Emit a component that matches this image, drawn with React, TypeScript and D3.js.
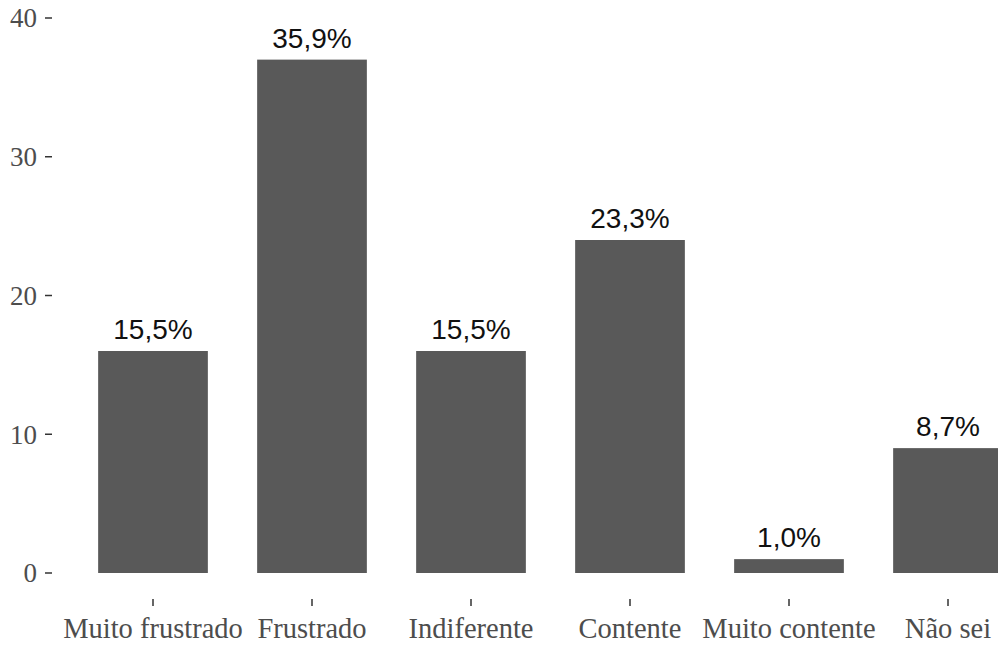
import React from "react";
import * as d3 from "d3";

const categories = ["Muito frustrado", "Frustrado", "Indiferente", "Contente", "Muito contente", "Não sei"];
const counts = [16, 37, 16, 24, 1, 9];
const percentLabels = ["15,5%", "35,9%", "15,5%", "23,3%", "1,0%", "8,7%"];
const yTicks = [0, 10, 20, 30, 40];

const W = 998;
const H = 645;

export default function App() {
  const x = d3.scalePoint<string>().domain(categories).range([153, 948]);
  const step = x.step();
  const barW = step * 0.69;
  const y = d3.scaleLinear().domain([0, 40]).range([573, 18]);
  const plotLeft = 52;
  const plotBottom = 599;

  return (
    <svg
      width={W}
      height={H}
      style={{ position: "absolute", left: 0, top: 0, background: "#fff" }}
    >
      <rect x={0} y={0} width={W} height={H} fill="#fff" />
      {categories.map((c, i) => (
        <rect
          key={c}
          x={(x(c) as number) - barW / 2}
          y={y(counts[i])}
          width={barW}
          height={y(0) - y(counts[i])}
          fill="#595959"
        />
      ))}
      {categories.map((c, i) => (
        <text
          key={"l" + c}
          x={x(c) as number}
          y={y(counts[i]) - 12}
          textAnchor="middle"
          fontFamily="'Liberation Sans', Arial, sans-serif"
          fontSize={28}
          fill="#111"
        >
          {percentLabels[i]}
        </text>
      ))}
      {yTicks.map((t) => (
        <g key={"y" + t}>
          <line x1={plotLeft - 7} x2={plotLeft} y1={y(t)} y2={y(t)} stroke="#333" strokeWidth={1.5} />
          <text
            x={plotLeft - 15}
            y={y(t)}
            dy="0.35em"
            textAnchor="end"
            fontFamily="'Liberation Serif', 'Times New Roman', serif"
            fontSize={27}
            fill="#4d4d4d"
          >
            {t}
          </text>
        </g>
      ))}
      {categories.map((c) => (
        <g key={"x" + c}>
          <line
            x1={x(c) as number}
            x2={x(c) as number}
            y1={plotBottom}
            y2={plotBottom + 7}
            stroke="#333"
            strokeWidth={1.5}
          />
          <text
            x={x(c) as number}
            y={638}
            textAnchor="middle"
            fontFamily="'Liberation Serif', 'Times New Roman', serif"
            fontSize={28.5}
            fill="#4d4d4d"
          >
            {c}
          </text>
        </g>
      ))}
    </svg>
  );
}
